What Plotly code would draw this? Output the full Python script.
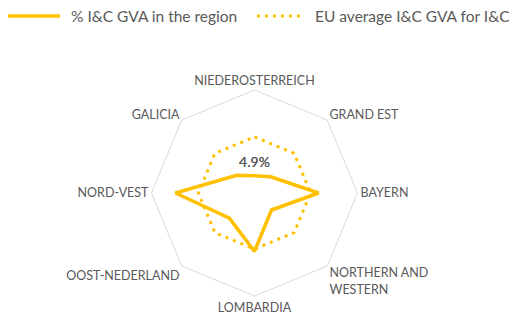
import plotly.graph_objects as go

# Regions around the radar, clockwise from the top
regions = [
    "NIEDEROSTERREICH",
    "GRAND EST",
    "BAYERN",
    "NORTHERN AND<br>WESTERN",
    "LOMBARDIA",
    "OOST-NEDERLAND",
    "NORD-VEST",
    "GALICIA",
]
# Share of I&C gross value added in each region (%)
region_share = [1.5, 2.0, 5.6, 2.1, 5.1, 3.1, 6.9, 2.2]
# EU average I&C GVA (%)
eu_average = 4.9
eu_share = [eu_average] * len(regions)

series_names = ["% I&C GVA in the region", "EU average I&C GVA for I&C"]

GOLD = "#FFC000"
GREY_TEXT = "#595959"
FONT = "Lato"
SOLID = dict(color=GOLD, width=3.5)
DOTTED = dict(color=GOLD, width=3, dash="3px,5px")

W, H = 515, 322


def closed(values):
    return list(values) + [values[0]]


fig = go.Figure()

fig.add_trace(go.Scatterpolar(
    r=closed(region_share),
    theta=closed(regions),
    mode="lines",
    name=series_names[0],
    line=SOLID,
))

eu_labels = [f"{eu_average:.1f}%"] + [""] * (len(regions) - 1)
fig.add_trace(go.Scatterpolar(
    r=closed(eu_share),
    theta=closed(regions),
    mode="lines+markers+text",
    name=series_names[1],
    line=DOTTED,
    marker=dict(size=30, color="rgba(0,0,0,0)"),
    text=closed(eu_labels),
    textposition="bottom center",
    textfont=dict(family=FONT, size=14, color=GREY_TEXT),
    cliponaxis=False,
))

# Legend row across the top: line sample followed by its series name
legend_y = 1 - 16 / H
legend_items = [
    (8, 60, 69, SOLID, series_names[0]),
    (257, 303, 313, DOTTED, series_names[1]),
]
shapes, annotations = [], []
for x0, x1, tx, style, name in legend_items:
    shapes.append(dict(
        type="line", xref="paper", yref="paper",
        x0=x0 / W, x1=x1 / W, y0=legend_y, y1=legend_y,
        line=style,
    ))
    annotations.append(dict(
        xref="paper", yref="paper", x=tx / W, y=legend_y,
        xanchor="left", yanchor="middle", showarrow=False,
        text=name, font=dict(family=FONT, size=15.5, color=GREY_TEXT),
    ))

fig.update_layout(
    width=W,
    height=H,
    margin=dict(l=0, r=0, t=0, b=0),
    paper_bgcolor="white",
    plot_bgcolor="white",
    font=dict(family=FONT, size=12, color=GREY_TEXT),
    showlegend=False,
    shapes=shapes,
    annotations=annotations,
    polar=dict(
        domain=dict(x=[151.5 / W, 357.5 / W], y=[26 / H, 232 / H]),
        gridshape="linear",
        bgcolor="white",
        radialaxis=dict(
            range=[0, 9],
            visible=False,
            showgrid=False,
        ),
        angularaxis=dict(
            direction="clockwise",
            rotation=90,
            showgrid=False,
            showline=True,
            linecolor="#D9D9D9",
            linewidth=1,
            ticks="",
            tickfont=dict(family=FONT, size=12.5, color=GREY_TEXT),
        ),
    ),
)

fig.write_html("out.html")
